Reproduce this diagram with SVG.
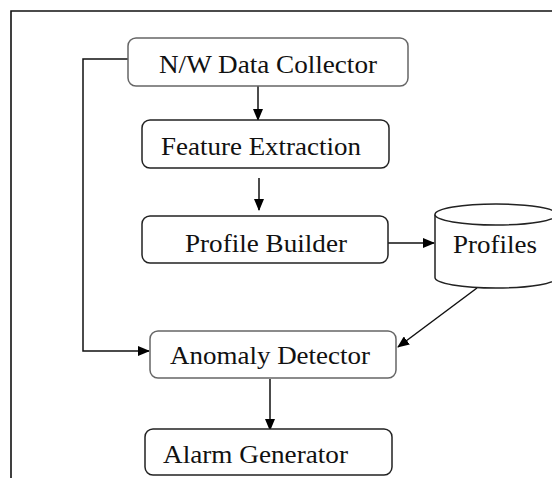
<svg xmlns="http://www.w3.org/2000/svg" width="552" height="478" viewBox="0 0 552 478">
<style>
.box{fill:#fff;stroke:#222;stroke-width:1.5}
.box.g{stroke:#666}
.lbl{font-family:"Liberation Serif","Times New Roman",serif;font-size:26px;fill:#111}
.con{fill:none;stroke:#111;stroke-width:1.5}
</style>
<defs>
<marker id="ah" markerUnits="userSpaceOnUse" markerWidth="12" markerHeight="10" refX="11" refY="5" orient="auto">
<path d="M0,0 L12,5 L0,10 Z" fill="#000"/>
</marker>
</defs>
<rect width="552" height="478" fill="#fff"/>
<path d="M11,478 V11 H552" fill="none" stroke="#111" stroke-width="1.6"/>
<g id="connectors">
<line class="con" x1="258" y1="86" x2="258" y2="120" marker-end="url(#ah)"/>
<line class="con" x1="259" y1="178" x2="259" y2="210" marker-end="url(#ah)"/>
<line class="con" x1="388" y1="243" x2="434" y2="243" marker-end="url(#ah)"/>
<line class="con" x1="477" y1="288" x2="398" y2="347" marker-end="url(#ah)"/>
<polyline class="con" points="128,59 83,59 83,351 149,351" marker-end="url(#ah)"/>
<line class="con" x1="270" y1="379" x2="270" y2="430" marker-end="url(#ah)"/>
</g>
<g id="nw">
<rect class="box g" x="128" y="38" width="280" height="48" rx="8"/>
<text class="lbl" x="159" y="73" textLength="218" lengthAdjust="spacingAndGlyphs">N/W Data Collector</text>
</g>
<g id="fe">
<rect class="box" x="142" y="120" width="247" height="48" rx="8"/>
<text class="lbl" x="161" y="155" textLength="200" lengthAdjust="spacingAndGlyphs">Feature Extraction</text>
</g>
<g id="pb">
<rect class="box" x="142" y="216" width="246" height="47" rx="8"/>
<text class="lbl" x="185" y="252" textLength="162" lengthAdjust="spacingAndGlyphs">Profile Builder</text>
</g>
<g id="profiles">
<path class="box" d="M435,214.5 V277.5 A61,10.5 0 0 0 557,277.5 V214.5"/>
<ellipse class="box" cx="496" cy="214.5" rx="61" ry="10.5"/>
<text class="lbl" x="453" y="253" textLength="84" lengthAdjust="spacingAndGlyphs">Profiles</text>
</g>
<g id="ad">
<rect class="box g" x="150" y="331" width="246" height="47" rx="8"/>
<text class="lbl" x="170" y="364" textLength="200" lengthAdjust="spacingAndGlyphs">Anomaly Detector</text>
</g>
<g id="ag">
<rect class="box" x="145" y="429" width="247" height="46" rx="8"/>
<text class="lbl" x="163" y="463" textLength="185" lengthAdjust="spacingAndGlyphs">Alarm Generator</text>
</g>
</svg>
